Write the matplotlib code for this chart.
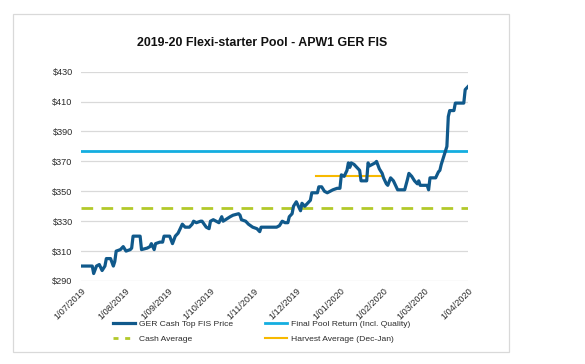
import matplotlib
matplotlib.use("Agg")
import matplotlib.pyplot as plt
from matplotlib.patches import Rectangle
from matplotlib.lines import Line2D
import pandas as pd

# ---- data ----
start_date = "2019-07-01"
price_days = [0, 8, 9, 11, 13, 15, 17, 18, 21, 23, 24, 25, 28, 30, 32, 35, 36, 37, 42, 43,
              47, 49, 50, 52, 53, 56, 58, 59, 63, 65, 67, 69, 72, 74, 77, 79, 80, 82, 85, 86,
              89, 91, 92, 94, 96, 98, 100, 101, 106, 108, 112, 113, 114, 117, 119, 122, 125, 127, 128, 132,
              139, 141, 143, 145, 147, 148, 150, 151, 153, 155, 156, 157, 159, 160, 163, 164, 168, 169, 171, 173,
              175, 177, 179, 182, 184, 185, 187, 188, 189, 190, 191, 192, 194, 196, 198, 199, 203, 204, 205, 207,
              209, 210, 212, 214, 215, 217, 218, 220, 222, 223, 225, 230, 232, 233, 235, 237, 239, 240, 241, 246,
              247, 248, 252, 254, 255, 256, 258, 259, 260, 261, 262, 265, 266, 268, 272, 273, 275]
price_values = [300, 300, 295, 300, 301, 297, 300, 305, 305, 300, 303, 310, 311, 313, 310, 311, 312, 320, 320, 311,
                312, 313, 315, 311, 315, 316, 316, 320, 320, 315, 320, 322, 328, 326, 326, 328, 330, 329, 330, 330,
                326, 325, 330, 331, 330, 329, 333, 330, 333, 334, 335, 334, 331, 330, 328, 326, 325, 323, 326, 326,
                326, 327, 330, 329, 329, 333, 335, 340, 343, 339, 337, 342, 340, 341, 344, 349, 349, 353, 353, 350,
                349, 350, 351, 352, 352, 361, 360, 362, 364, 369, 366, 369, 368, 366, 364, 357, 357, 369, 367, 368,
                369, 370, 365, 362, 359, 355, 354, 359, 357, 355, 351, 351, 358, 362, 360, 357, 355, 357, 354, 354,
                351, 359, 359, 363, 364, 368, 374, 377, 380, 400, 404, 404, 409, 409, 409, 418, 420]
final_pool_return = 377
cash_average = 339
harvest_average = 360
harvest_start = "2019-12-15"
harvest_end = "2020-01-31"
x_start = "2019-07-01"
x_end = "2020-04-01"
y_ticks = [290, 310, 330, 350, 370, 390, 410, 430]
series_labels = ["GER Cash Top FIS Price", "Final Pool Return (Incl. Quality)",
                 "Cash Average", "Harvest Average (Dec-Jan)"]
title = "2019-20 Flexi-starter Pool - APW1 GER FIS"

# ---- style ----
c_price = "#10598b"
c_pool = "#14aee0"
c_cash = "#b2c92a"
c_harv = "#f7b900"
text_col = "#2b2b2b"
plt.rcParams["font.family"] = ["Liberation Sans", "DejaVu Sans"]

dates = pd.to_datetime(start_date) + pd.to_timedelta(price_days, unit="D")
x0, x1 = pd.to_datetime(x_start), pd.to_datetime(x_end)

fig = plt.figure(figsize=(5.85, 3.64), dpi=100)
W, H = 585, 364
ax = fig.add_axes([81 / W, 1 - 281 / H, (468 - 81) / W, (281 - 71.7) / H])

ax.set_xlim(x0, x1)
ax.set_ylim(290, 430)
ax.set_yticks(y_ticks)
ax.yaxis.set_major_formatter(plt.FuncFormatter(lambda v, p: f"${v:.0f}"))
ax.grid(axis="y", color="#d9d9d9", lw=0.9)
ax.set_axisbelow(True)
for s in ax.spines.values():
    s.set_visible(False)
ax.tick_params(axis="both", length=0, labelsize=6.6, colors=text_col)
ax.tick_params(axis="y", pad=6)

months = pd.date_range(x0, x1, freq="MS")
ax.set_xticks(months)
ax.set_xticklabels([f"{d.day}/{d.month:02d}/{d.year}" for d in months],
                   rotation=45, ha="right", va="top", rotation_mode="anchor")
ax.tick_params(axis="x", pad=4)

ax.axhline(final_pool_return, color=c_pool, lw=2.0, zorder=3)
ax.axhline(cash_average, color=c_cash, lw=2.0, dashes=(4.2, 3.0), zorder=3)
ax.plot([pd.to_datetime(harvest_start), pd.to_datetime(harvest_end)],
        [harvest_average, harvest_average], color=c_harv, lw=1.5, zorder=3)
ax.plot(dates, price_values, color=c_price, lw=2.3, zorder=4, solid_joinstyle="round")

fig.text(262 / W, 1 - 43 / H, title, ha="center", va="center",
         fontsize=8.9, fontweight="bold", color="#111111")

handles = [Line2D([], [], color=c_price, lw=2.3),
           Line2D([], [], color=c_cash, lw=2.0, dashes=(1.8, 2.4)),
           Line2D([], [], color=c_pool, lw=2.0),
           Line2D([], [], color=c_harv, lw=1.5)]
labels = [series_labels[0], series_labels[2], series_labels[1], series_labels[3]]
fig.legend(handles, labels, ncol=2, loc="upper left",
           bbox_to_anchor=(105 / W, 1 - 312 / H), frameon=False,
           fontsize=6.1, handlelength=2.6, handletextpad=0.5, columnspacing=3.8,
           labelspacing=0.85, labelcolor=text_col)

fig.add_artist(Rectangle((13 / W, 1 - 352 / H), (509 - 13) / W, (352 - 14) / H,
                         transform=fig.transFigure, fill=False, edgecolor="#d9d9d9", lw=0.9))

fig.savefig("out.png", dpi=100)
